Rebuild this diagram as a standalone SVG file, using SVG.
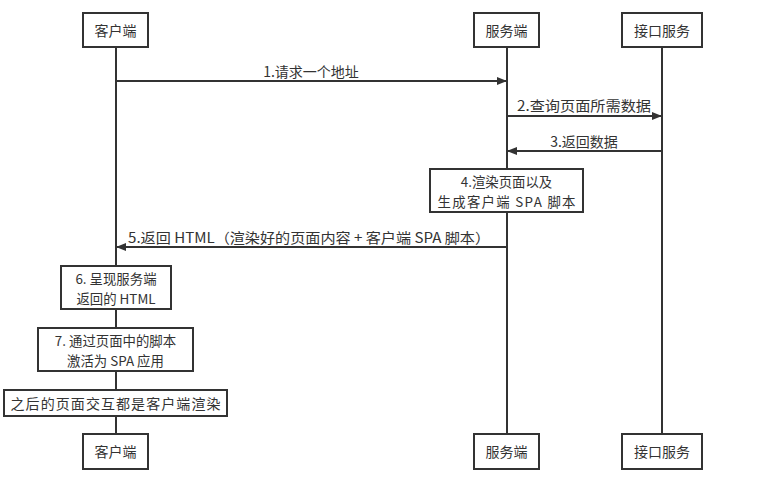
<svg xmlns="http://www.w3.org/2000/svg" width="762" height="497" viewBox="0 0 762 497">
<defs>
<style>
text{font-family:"Noto Sans CJK SC","Liberation Serif",serif;font-size:14px;fill:#333;text-anchor:middle;dominant-baseline:central}
text.two{font-size:13.4px}
.box{fill:#fff;stroke:#333;stroke-width:2}
.life{stroke:#333;stroke-width:2;fill:none}
.msg{stroke:#333;stroke-width:2;fill:none;marker-end:url(#ah)}
</style>
<marker id="ah" viewBox="0 0 10 10" refX="10" refY="5" markerWidth="10" markerHeight="10" markerUnits="userSpaceOnUse" orient="auto">
<path d="M0,1 L10,5 L0,9 Z" fill="#333"/>
</marker>
</defs>
<g id="connectors">
<line class="life" x1="116" y1="47" x2="116" y2="434"/>
<line class="life" x1="507" y1="47" x2="507" y2="434"/>
<line class="life" x1="662" y1="47" x2="662" y2="434"/>
<line class="msg" x1="116" y1="81" x2="507" y2="81"/>
<text x="311" y="71">1.请求一个地址</text>
<line class="msg" x1="507" y1="116" x2="662" y2="116"/>
<text x="584" y="105" textLength="134" lengthAdjust="spacingAndGlyphs">2.查询页面所需数据</text>
<line class="msg" x1="662" y1="151" x2="507" y2="151"/>
<text x="584" y="141">3.返回数据</text>
<line class="msg" x1="507" y1="247" x2="116" y2="247"/>
<text x="309" y="237" textLength="362" lengthAdjust="spacingAndGlyphs">5.返回 HTML（渲染好的页面内容 + 客户端 SPA 脚本）</text>
</g>
<g id="client-top"><rect class="box" x="83" y="13" width="65" height="34"/><text x="115.5" y="30">客户端</text></g>
<g id="server-top"><rect class="box" x="474" y="13" width="65" height="34"/><text x="506.5" y="30">服务端</text></g>
<g id="api-top"><rect class="box" x="622" y="13" width="80" height="34"/><text x="662" y="30">接口服务</text></g>
<g id="step4"><rect class="box" x="430" y="169" width="153" height="43"/><text class="two" x="506.5" y="181">4.渲染页面以及</text><text class="two" x="506.5" y="200.5" textLength="138" lengthAdjust="spacing">生成客户端 SPA 脚本</text></g>
<g id="step6"><rect class="box" x="61" y="266" width="110" height="43"/><text class="two" x="116" y="278">6. 呈现服务端</text><text class="two" x="116" y="297.5">返回的 HTML</text></g>
<g id="step7"><rect class="box" x="38" y="328" width="155" height="43"/><text class="two" x="115.5" y="340">7. 通过页面中的脚本</text><text class="two" x="115.5" y="359.5">激活为 SPA 应用</text></g>
<g id="step8"><rect class="box" x="4" y="390" width="223" height="26"/><text x="115.5" y="403" textLength="210" lengthAdjust="spacing">之后的页面交互都是客户端渲染</text></g>
<g id="client-bottom"><rect class="box" x="83" y="434" width="65" height="35"/><text x="115.5" y="451">客户端</text></g>
<g id="server-bottom"><rect class="box" x="474" y="434" width="65" height="35"/><text x="506.5" y="451">服务端</text></g>
<g id="api-bottom"><rect class="box" x="622" y="434" width="80" height="35"/><text x="662" y="451">接口服务</text></g>
</svg>
